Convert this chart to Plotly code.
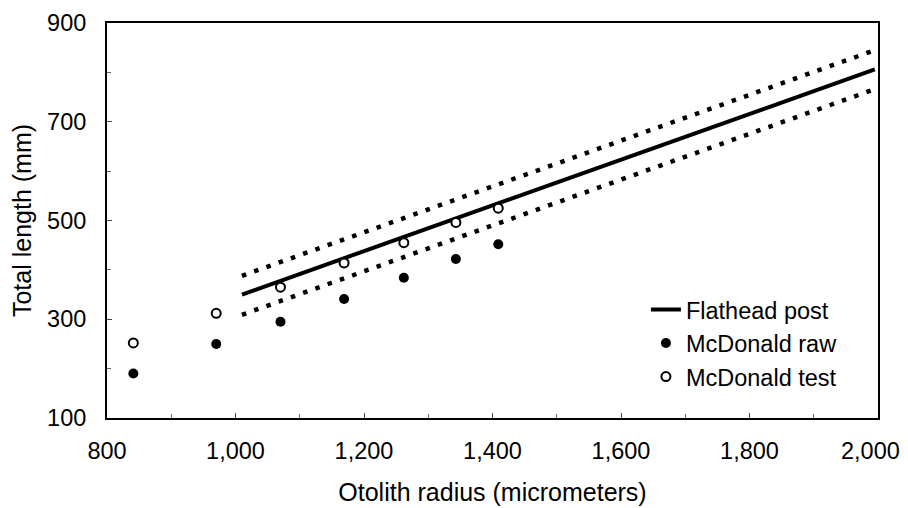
import plotly.graph_objects as go

# Data
raw_x = [841, 970, 1070, 1169, 1262, 1343, 1409]
raw_y = [190, 250, 295, 341, 384, 422, 452]
test_x = [841, 970, 1070, 1169, 1262, 1343, 1409]
test_y = [252, 312, 365, 414, 455, 496, 525]
fit_x = [1010, 1995]
fit_y = [350, 806]
upper_y = [388, 845]
lower_y = [309, 766]
x_tickvals = [800, 1000, 1200, 1400, 1600, 1800, 2000]
x_ticktext = ["800", "1,000", "1,200", "1,400", "1,600", "1,800", "2,000"]
y_tickvals = [100, 300, 500, 700, 900]

FONT = "Liberation Sans, Arial, sans-serif"
FS_TICK = 23.5
FS_TITLE = 25
FS_LEG = 23.5

fig = go.Figure()
fig.add_trace(go.Scatter(x=fit_x, y=upper_y, mode="lines", showlegend=False,
                         line=dict(color="black", width=4.5, dash="4.5px,8.5px")))
fig.add_trace(go.Scatter(x=fit_x, y=lower_y, mode="lines", showlegend=False,
                         line=dict(color="black", width=4.5, dash="4.5px,8.5px")))
fig.add_trace(go.Scatter(x=fit_x, y=fit_y, mode="lines", name="Flathead post",
                         line=dict(color="black", width=4)))
fig.add_trace(go.Scatter(x=raw_x, y=raw_y, mode="markers", name="McDonald raw",
                         marker=dict(color="black", size=10, symbol="circle")))
fig.add_trace(go.Scatter(x=test_x, y=test_y, mode="markers", name="McDonald test",
                         marker=dict(color="white", size=9, symbol="circle",
                                     line=dict(color="black", width=2))))

axis_common = dict(showgrid=False, zeroline=False, showline=True, linecolor="black",
                   linewidth=2, mirror=True, ticks="inside", ticklen=5, tickcolor="#444",
                   tickwidth=1, automargin=False, ticklabeloverflow="allow",
                   tickfont=dict(size=FS_TICK, color="black", family=FONT))

# last x tick label is drawn as an annotation, nudged left so it is not clipped at the page edge
shown_text = x_ticktext[:-1] + [""]
fig.update_xaxes(range=[800, 2000], tickvals=x_tickvals, ticktext=shown_text,
                 minor=dict(dtick=100, ticks="inside", ticklen=4, tickcolor="#666"),
                 title=dict(text="Otolith radius (micrometers)",
                            font=dict(size=FS_TITLE, color="black", family=FONT),
                            standoff=20),
                 ticklabelstandoff=11,
                 **axis_common)
fig.update_yaxes(range=[100, 900], tickvals=y_tickvals,
                 minor=dict(dtick=100, ticks="inside", ticklen=4, tickcolor="#666"),
                 title=dict(text="Total length (mm)",
                            font=dict(size=FS_TITLE, color="black", family=FONT),
                            standoff=20),
                 ticklabelstandoff=14,
                 **axis_common)

fig.add_annotation(x=x_tickvals[-1], xref="x", y=0, yref="paper", text=x_ticktext[-1],
                   showarrow=False, xanchor="right", yanchor="middle", xshift=24, yshift=-33,
                   font=dict(size=FS_TICK, color="black", family=FONT))

# The page body adds an 8px offset; margins compensate so the plot box sits as in the reference.
fig.update_layout(
    width=908, height=508,
    margin=dict(l=99, r=38, t=15, b=98),
    plot_bgcolor="white", paper_bgcolor="white",
    font=dict(family=FONT, color="black", size=FS_TICK),
    legend=dict(x=0.699, y=0.33, xanchor="left", yanchor="top",
                bgcolor="rgba(0,0,0,0)", font=dict(size=FS_LEG, color="black", family=FONT),
                tracegroupgap=0),
)

fig.write_html("out.html")
